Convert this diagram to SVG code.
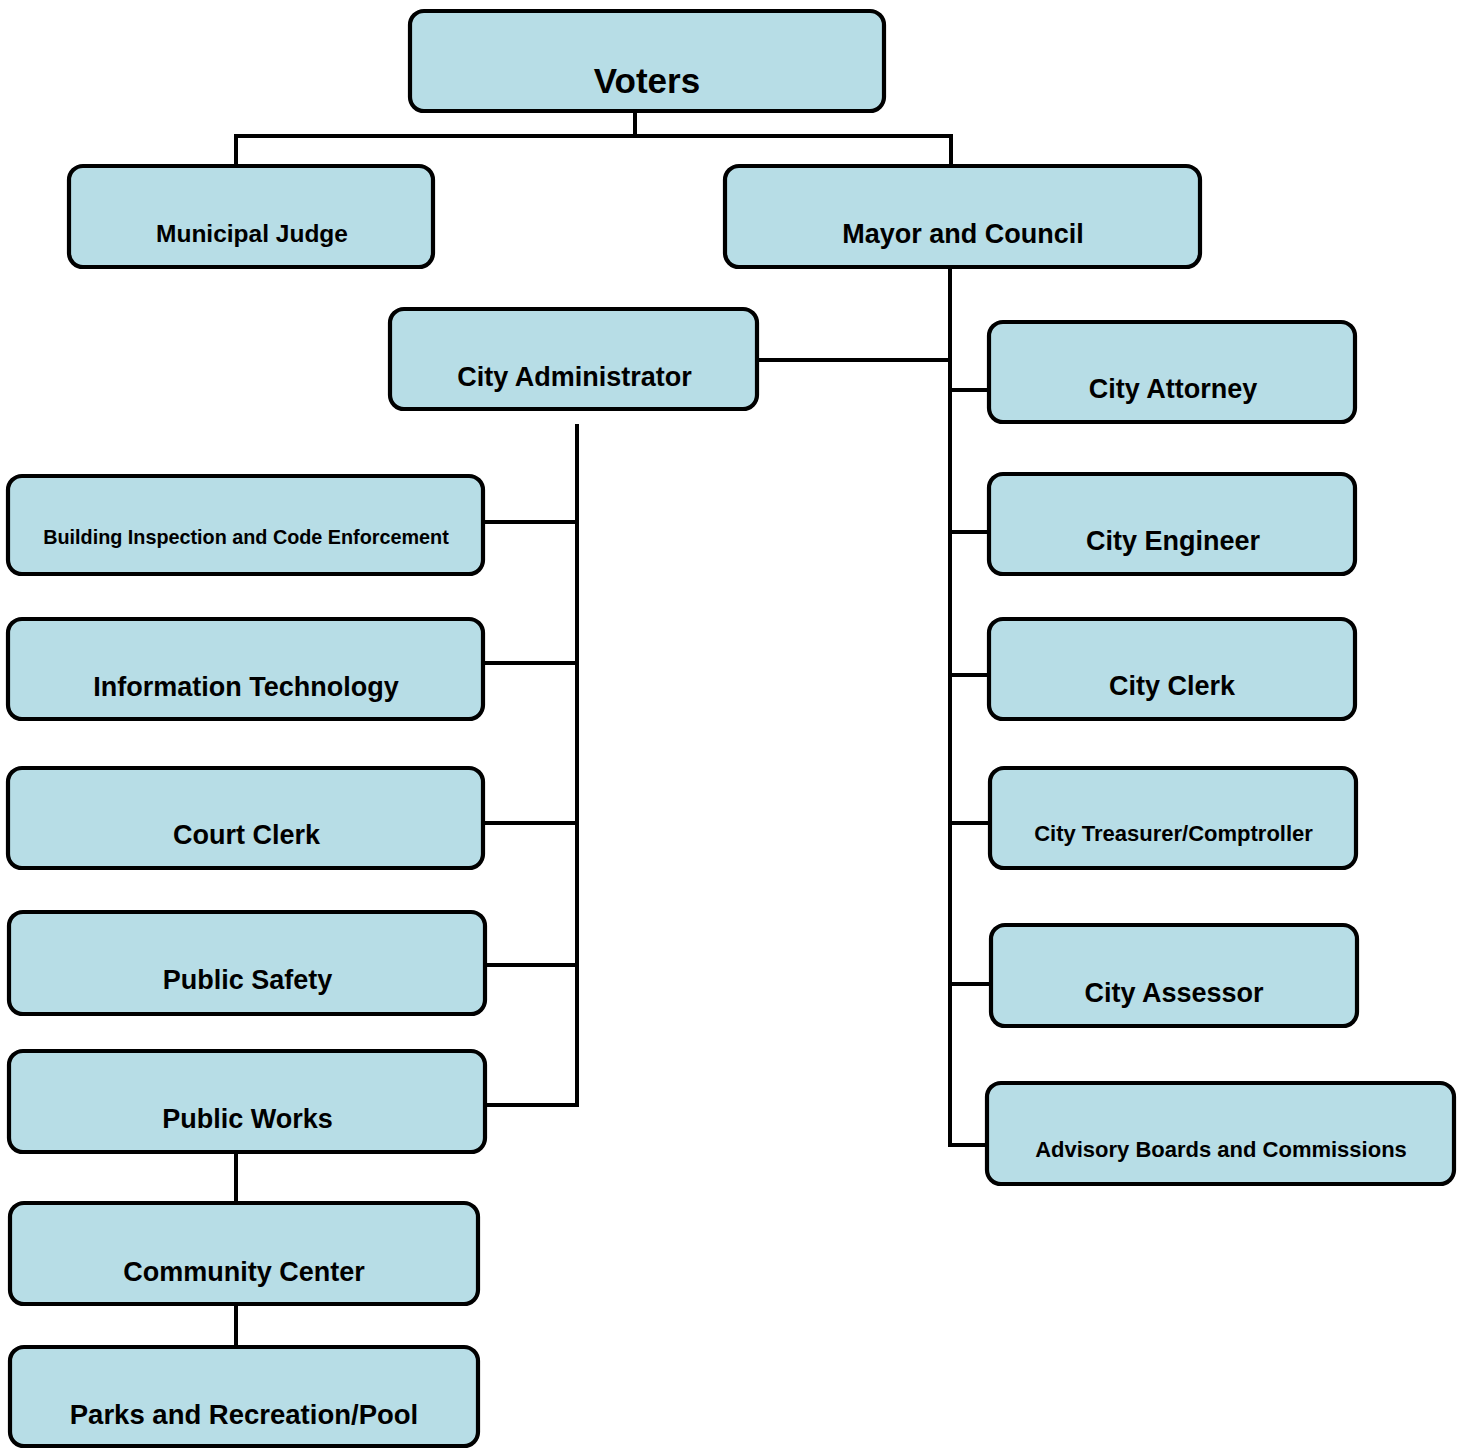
<svg xmlns="http://www.w3.org/2000/svg" width="1466" height="1449" viewBox="0 0 1466 1449">
<style>
.box{fill:#b7dde6;stroke:#000;stroke-width:4.2}
.t{font-family:"Liberation Sans",Arial,sans-serif;font-weight:bold;text-anchor:middle;fill:#000}
.l{fill:none;stroke:#000;stroke-width:4}
</style>
<rect width="1466" height="1449" fill="#fff"/>
<g id="connectors">
<path class="l" d="M635 113V136M236 136H951M236 134V164M951 134V164"/>
<path class="l" d="M950 269V1147M759 360H950M950 390H989M950 532H989M950 675H989M950 823H990M950 984H991M948 1145H987"/>
<path class="l" d="M577 424V1107M485 522H577M485 663H577M485 823H577M487 965H577M487 1105H579"/>
<path class="l" d="M236 1154V1201M236 1306V1345"/>
</g>
<g id="voters"><rect class="box" x="410" y="11" width="474" height="100" rx="14"/><text class="t" x="647" y="93" font-size="35">Voters</text></g>
<g id="judge"><rect class="box" x="69" y="166" width="364" height="101" rx="14"/><text class="t" x="252" y="242" font-size="24.5">Municipal Judge</text></g>
<g id="mayor"><rect class="box" x="725" y="166" width="475" height="101" rx="14"/><text class="t" x="963" y="243" font-size="27">Mayor and Council</text></g>
<g id="admin"><rect class="box" x="390" y="309" width="367" height="100" rx="14"/><text class="t" x="574.5" y="386" font-size="27">City Administrator</text></g>
<g id="attorney"><rect class="box" x="989" y="322" width="366" height="100" rx="14"/><text class="t" x="1173" y="398" font-size="27">City Attorney</text></g>
<g id="engineer"><rect class="box" x="989" y="474" width="366" height="100" rx="14"/><text class="t" x="1173" y="550" font-size="27">City Engineer</text></g>
<g id="clerk"><rect class="box" x="989" y="619" width="366" height="100" rx="14"/><text class="t" x="1172" y="695" font-size="27">City Clerk</text></g>
<g id="treasurer"><rect class="box" x="990" y="768" width="366" height="100" rx="14"/><text class="t" x="1173.5" y="841" font-size="22">City Treasurer/Comptroller</text></g>
<g id="assessor"><rect class="box" x="991" y="925" width="366" height="101" rx="14"/><text class="t" x="1174" y="1002" font-size="27">City Assessor</text></g>
<g id="advisory"><rect class="box" x="987" y="1083" width="467" height="101" rx="14"/><text class="t" x="1221" y="1157" font-size="22">Advisory Boards and Commissions</text></g>
<g id="building"><rect class="box" x="8" y="476" width="475" height="98" rx="14"/><text class="t" x="246" y="544" font-size="19.8">Building Inspection and Code Enforcement</text></g>
<g id="it"><rect class="box" x="8" y="619" width="475" height="100" rx="14"/><text class="t" x="246" y="696" font-size="27">Information Technology</text></g>
<g id="court"><rect class="box" x="8" y="768" width="475" height="100" rx="14"/><text class="t" x="246.5" y="844" font-size="27">Court Clerk</text></g>
<g id="safety"><rect class="box" x="9" y="912" width="476" height="102" rx="14"/><text class="t" x="247.5" y="989" font-size="27">Public Safety</text></g>
<g id="works"><rect class="box" x="9" y="1051" width="476" height="101" rx="14"/><text class="t" x="247.5" y="1128" font-size="27">Public Works</text></g>
<g id="community"><rect class="box" x="10" y="1203" width="468" height="101" rx="14"/><text class="t" x="244" y="1281" font-size="27">Community Center</text></g>
<g id="parks"><rect class="box" x="10" y="1347" width="468" height="99" rx="14"/><text class="t" x="244" y="1424" font-size="27.5">Parks and Recreation/Pool</text></g>
</svg>
